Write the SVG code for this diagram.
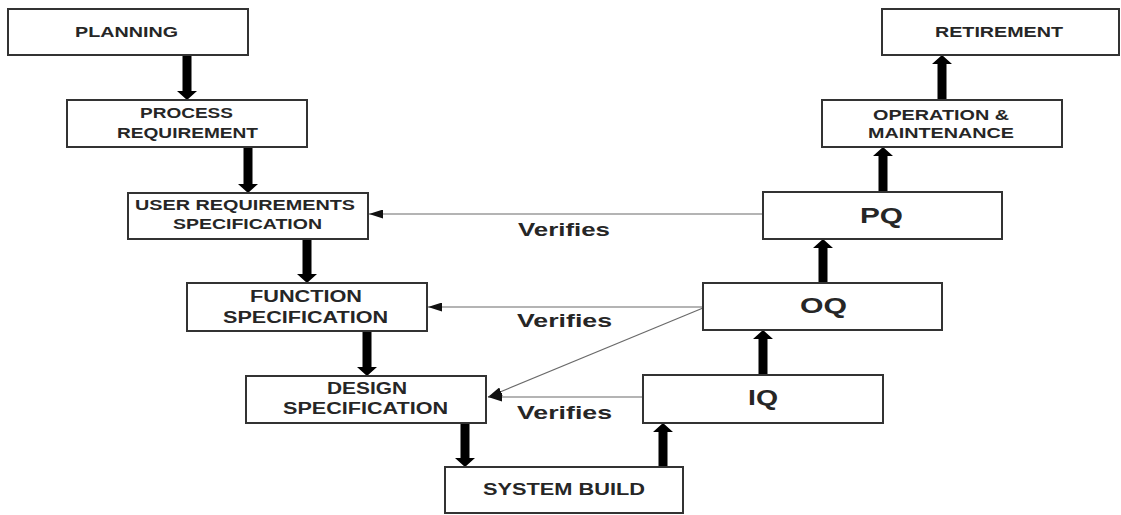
<svg xmlns="http://www.w3.org/2000/svg" width="1121" height="515" viewBox="0 0 1121 515">
  <style>
    .box { fill: #ffffff; stroke: #333333; stroke-width: 2; }
    .lbl { font-family: "Liberation Sans", Arial, sans-serif; font-weight: bold; fill: #262626; text-anchor: start; }
    .s14 { font-size: 14px; }
    .s16 { font-size: 16px; }
    .s22 { font-size: 22px; }
    .ver { font-size: 19px; }
    .flow { fill: #000000; }
    .link { stroke: #6a6a6a; stroke-width: 1.2; fill: none; marker-end: url(#tip); }
  </style>
  <defs>
    <marker id="tip" markerUnits="userSpaceOnUse" markerWidth="14" markerHeight="9" refX="14" refY="4.5" orient="auto">
      <path d="M0,0 L14,4.5 L0,9 Z" fill="#111111"/>
    </marker>
  </defs>
  <rect width="1121" height="515" fill="#ffffff"/>

  <g id="connectors">
    <!-- verification links -->
    <line class="link" x1="763" y1="214" x2="369" y2="214"/>
    <line class="link" x1="703" y1="307" x2="428" y2="307"/>
    <line class="link" x1="703" y1="308" x2="488" y2="397"/>
    <line class="link" x1="643" y1="397" x2="488" y2="397"/>
    <!-- downward flow -->
    <path class="flow" d="M182.5,55 H191.5 V91 H197 L187,100 L177,91 H182.5 Z"/>
    <path class="flow" d="M243.5,147 H252.5 V184 H258 L248,193 L238,184 H243.5 Z"/>
    <path class="flow" d="M302.5,239 H311.5 V274 H317 L307,283 L297,274 H302.5 Z"/>
    <path class="flow" d="M362.5,331 H371.5 V367 H377 L367,376 L357,367 H362.5 Z"/>
    <path class="flow" d="M460.5,423 H469.5 V458 H475 L465,467 L455,458 H460.5 Z"/>
    <!-- upward flow -->
    <path class="flow" d="M658.5,467 H667.5 V432 H673 L663,423 L653,432 H658.5 Z"/>
    <path class="flow" d="M758.5,375 H767.5 V339 H773 L763,330 L753,339 H758.5 Z"/>
    <path class="flow" d="M818.5,283 H827.5 V248 H833 L823,239 L813,248 H818.5 Z"/>
    <path class="flow" d="M878.5,192 H887.5 V156 H893 L883,147 L873,156 H878.5 Z"/>
    <path class="flow" d="M937.5,100 H946.5 V64 H952 L942,55 L932,64 H937.5 Z"/>
  </g>

  <g id="labels">
    <text class="lbl ver" x="518" y="236" textLength="92" lengthAdjust="spacingAndGlyphs">Verifies</text>
    <text class="lbl ver" x="517" y="327" textLength="95" lengthAdjust="spacingAndGlyphs">Verifies</text>
    <text class="lbl ver" x="517" y="419" textLength="95" lengthAdjust="spacingAndGlyphs">Verifies</text>
  </g>

  <g id="planning">
    <rect class="box" x="8" y="9" width="240" height="46"/>
    <text class="lbl s14" x="75" y="37" textLength="103" lengthAdjust="spacingAndGlyphs">PLANNING</text>
  </g>
  <g id="process-requirement">
    <rect class="box" x="67" y="100" width="240" height="47"/>
    <text class="lbl s14" x="140" y="118" textLength="93" lengthAdjust="spacingAndGlyphs">PROCESS</text>
    <text class="lbl s14" x="117" y="138" textLength="141" lengthAdjust="spacingAndGlyphs">REQUIREMENT</text>
  </g>
  <g id="user-requirements">
    <rect class="box" x="128" y="193" width="240" height="46"/>
    <text class="lbl s14" x="135" y="210" textLength="220" lengthAdjust="spacingAndGlyphs">USER REQUIREMENTS</text>
    <text class="lbl s14" x="173" y="229" textLength="149" lengthAdjust="spacingAndGlyphs">SPECIFICATION</text>
  </g>
  <g id="function-spec">
    <rect class="box" x="187" y="283" width="240" height="48"/>
    <text class="lbl s16" x="250" y="302" textLength="112" lengthAdjust="spacingAndGlyphs">FUNCTION</text>
    <text class="lbl s16" x="223" y="323" textLength="165" lengthAdjust="spacingAndGlyphs">SPECIFICATION</text>
  </g>
  <g id="design-spec">
    <rect class="box" x="246" y="376" width="240" height="47"/>
    <text class="lbl s16" x="327" y="394" textLength="80" lengthAdjust="spacingAndGlyphs">DESIGN</text>
    <text class="lbl s16" x="283" y="414" textLength="165" lengthAdjust="spacingAndGlyphs">SPECIFICATION</text>
  </g>
  <g id="system-build">
    <rect class="box" x="445" y="467" width="238" height="46"/>
    <text class="lbl s16" x="483" y="495" textLength="162" lengthAdjust="spacingAndGlyphs">SYSTEM BUILD</text>
  </g>
  <g id="iq">
    <rect class="box" x="643" y="375" width="240" height="48"/>
    <text class="lbl s22" x="748" y="405" textLength="30" lengthAdjust="spacingAndGlyphs">IQ</text>
  </g>
  <g id="oq">
    <rect class="box" x="703" y="283" width="239" height="47"/>
    <text class="lbl s22" x="800" y="313" textLength="47" lengthAdjust="spacingAndGlyphs">OQ</text>
  </g>
  <g id="pq">
    <rect class="box" x="763" y="192" width="239" height="47"/>
    <text class="lbl s22" x="860" y="223" textLength="43" lengthAdjust="spacingAndGlyphs">PQ</text>
  </g>
  <g id="operation-maintenance">
    <rect class="box" x="822" y="100" width="240" height="47"/>
    <text class="lbl s14" x="873" y="120" textLength="136" lengthAdjust="spacingAndGlyphs">OPERATION &amp;</text>
    <text class="lbl s14" x="868" y="138" textLength="146" lengthAdjust="spacingAndGlyphs">MAINTENANCE</text>
  </g>
  <g id="retirement">
    <rect class="box" x="882" y="9" width="237" height="46"/>
    <text class="lbl s14" x="935" y="37" textLength="128" lengthAdjust="spacingAndGlyphs">RETIREMENT</text>
  </g>
</svg>
